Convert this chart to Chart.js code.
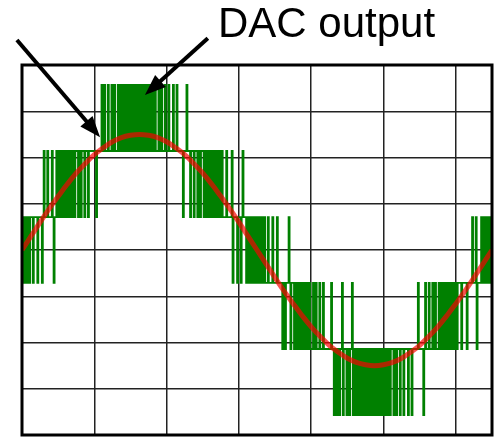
<!DOCTYPE html>
<html>
<head>
<meta charset="utf-8">
<title>DAC output</title>
<script src="https://cdn.jsdelivr.net/npm/chart.js@4"></script>
<style>
  html, body { margin: 0; padding: 0; background: #fff; }
  canvas { display: block; }
</style>
</head>
<body>
<canvas id="dacChart" width="501" height="447"></canvas>
<script>
/* ================================
   Data (in divisions)
================================ */
// analog input, one value every 1/8 division
const sineStep = 0.125;
const sineValues = [
  0, 0.30, 0.60, 0.89, 1.16, 1.42, 1.66, 1.87, 2.06, 2.21, 2.34, 2.43, 2.48,
  2.50, 2.48, 2.43, 2.34, 2.21, 2.06, 1.87, 1.66, 1.42, 1.16, 0.89, 0.60, 0.30,
  0, -0.30, -0.60, -0.89, -1.16, -1.42, -1.66, -1.87, -2.06, -2.21, -2.34, -2.43, -2.48,
  -2.50, -2.48, -2.43, -2.34, -2.21, -2.06, -1.87, -1.66, -1.42, -1.16, -0.89, -0.60, -0.30,
  0
];

// DAC output levels (code 0..5)
const dacLevels = [-3.57, -2.14, -0.71, 0.71, 2.14, 3.57];

// DAC codes, one sample every 1/80 division, ten samples per string
const dacStep = 0.0125;
const dacCodeSegments = [
  "3232332323", "3323333233", "3323433343", "3334323343", "3434334343",
  "4343443434", "4434434443", "4443444444", "4434444454", "4544454445",
  "4454445454", "4545445454", "5454545454", "4545454545", "5454454544",
  "4544544454", "4454444544", "4544444434", "4454443444", "3444344344",
  "4343434434", "3433434343", "3433334333", "3342333323", "3323433323",
  "3232323323", "2323223232", "2232222322", "2232222212", "2122232122",
  "2121221212", "1212112121", "1121121112", "1112111111", "1121101101",
  "1011201110", "1101120101", "1010110101", "0101010101", "1010101010",
  "0101101011", "1011011101", "1101111011", "1011111121", "1111012111",
  "2111211211", "1212121121", "2122121212", "2122221222", "2212222232",
  "2231222232", "2323232232", "3"
];

/* ================================
   Annotations (data coords)
================================ */
const labelText = "DAC output";
const labelAt = { x: 2.71, y: 4.6 };
const arrows = [
  { from: { x: -0.07, y: 4.54 }, to: { x: 1.08, y: 2.44 } },
  { from: { x: 2.57, y: 4.58 }, to: { x: 1.70, y: 3.35 } }
];

/* ================================
   Build points
================================ */
function sinePoints() {
  return sineValues.map((v, i) => ({ x: i * sineStep, y: v }));
}

function dacPoints() {
  const codes = dacCodeSegments.join("").split("");
  return codes.map((c, i) => ({ x: i * dacStep, y: dacLevels[Number(c)] }));
}

/* ================================
   Plugins
================================ */
function drawArrow(ctx, x1, y1, x2, y2) {
  const ang = Math.atan2(y2 - y1, x2 - x1);
  const headLen = 21;
  const headHalf = 8;
  const cos = Math.cos(ang), sin = Math.sin(ang);

  ctx.beginPath();
  ctx.moveTo(x1, y1);
  ctx.lineTo(x2 - cos * headLen * 0.7, y2 - sin * headLen * 0.7);
  ctx.stroke();

  ctx.beginPath();
  ctx.moveTo(x2, y2);
  ctx.lineTo(x2 - cos * headLen - sin * headHalf, y2 - sin * headLen + cos * headHalf);
  ctx.lineTo(x2 - cos * headLen + sin * headHalf, y2 - sin * headLen - cos * headHalf);
  ctx.closePath();
  ctx.fill();
}

const scopeFrame = {
  id: "scopeFrame",
  afterDraw(chart) {
    const { ctx, chartArea: a, scales: { x, y } } = chart;
    ctx.save();

    // outer frame
    ctx.strokeStyle = "#000";
    ctx.lineWidth = 3;
    ctx.strokeRect(a.left, a.top, a.right - a.left, a.bottom - a.top);

    // arrows
    ctx.fillStyle = "#000";
    ctx.lineWidth = 4;
    ctx.lineCap = "butt";
    arrows.forEach(ar => {
      drawArrow(
        ctx,
        x.getPixelForValue(ar.from.x), y.getPixelForValue(ar.from.y),
        x.getPixelForValue(ar.to.x), y.getPixelForValue(ar.to.y)
      );
    });

    // label
    ctx.font = '42px "Liberation Sans", Arial, sans-serif';
    ctx.textAlign = "left";
    ctx.textBaseline = "alphabetic";
    ctx.fillText(labelText, x.getPixelForValue(labelAt.x), y.getPixelForValue(labelAt.y));

    ctx.restore();
  }
};

/* ================================
   Chart
================================ */
const gridOpts = { drawTicks: false, color: "#222", lineWidth: 1.5 };

new Chart(document.getElementById("dacChart"), {
  type: "line",
  data: {
    datasets: [
      {
        label: "Analog input",
        data: sinePoints(),
        borderColor: "rgba(250,0,0,0.68)",
        borderWidth: 5,
        pointRadius: 0,
        tension: 0.4,
        order: 0
      },
      {
        label: "DAC output",
        data: dacPoints(),
        borderColor: "rgb(0,128,0)",
        borderWidth: 1.9,
        pointRadius: 0,
        stepped: true,
        order: 1
      }
    ]
  },
  options: {
    responsive: false,
    animation: false,
    events: [],
    layout: { padding: { left: 22, right: 9, top: 65, bottom: 12 } },
    plugins: {
      legend: { display: false },
      tooltip: { enabled: false }
    },
    scales: {
      x: {
        type: "linear",
        min: 0,
        max: 6.5,
        ticks: { display: false, stepSize: 1 },
        grid: gridOpts,
        border: { display: false }
      },
      y: {
        type: "linear",
        min: -4,
        max: 4,
        ticks: { display: false, stepSize: 1 },
        grid: gridOpts,
        border: { display: false }
      }
    }
  },
  plugins: [scopeFrame]
});
</script>
</body>
</html>
